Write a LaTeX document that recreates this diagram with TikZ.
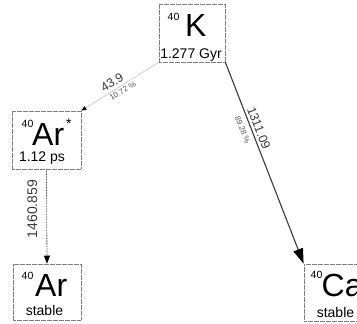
\documentclass[tikz,border=0pt]{standalone}
\usepackage{fontspec}
\setmainfont{Liberation Sans}
\usetikzlibrary{arrows.meta}
\newcommand\fsz[1]{\fontsize{#1}{#1}\selectfont}
\definecolor{boxgray}{HTML}{7E7E7E}
\definecolor{lightline}{HTML}{C4C4C4}
\definecolor{darkline}{HTML}{3A3A3A}
\definecolor{labgray}{HTML}{5A5A5A}
\tikzset{
  nucbox/.style={draw=boxgray, line width=0.8pt, dash pattern=on 0.6pt off 0.6pt, minimum width=67pt, minimum height=58pt, inner sep=0pt},
  sym/.style={font=\fsz{32}, inner sep=0pt, anchor=base west},
  massno/.style={font=\fsz{10.5}, inner sep=0pt, anchor=base west},
  hlife/.style={font=\fsz{14}, inner sep=0pt, anchor=base},
  elab/.style={font=\fsz{12.5}, text=darkline, inner sep=1pt},
  plab/.style={font=\fsz{8}, text=labgray, inner sep=1pt},
}
\begin{document}
\begin{tikzpicture}[x=1pt, y=-1pt]
\useasboundingbox (0,0) rectangle (357,324);
% K-40
\node[nucbox, minimum width=66pt] (Kbox) at (192,33) {};
\node[massno] (Km) at (167.5,20) {40};
\node[sym] (Ks) at (185,37) {K};
\node[hlife] (Kh) at (191,58) {1.277 Gyr};
% Ar-40*
\node[nucbox, minimum width=69pt] (Arsbox) at (46.5,140) {};
\node[massno] (Arsm) at (21.5,128) {40};
\node[sym] (Arss) at (32,146) {Ar};
\node[font=\fsz{14}, inner sep=0pt, anchor=north west] (Arsst) at (66,119) {*};
\node[hlife] (Arsh) at (42,161) {1.12 ps};
% Ar-40
\node[nucbox, minimum width=68pt, minimum height=56pt] (Arbox) at (47,292) {};
\node[massno] (Arm) at (21.5,279) {40};
\node[sym] (Ars) at (35,296) {Ar};
\node[hlife] (Arh) at (44.5,315) {stable};
% Ca-40
\node[nucbox, minimum width=68pt, minimum height=57pt] (Cabox) at (338,292.5) {};
\node[massno] (Cam) at (310.5,278) {40};
\node[sym] (Cas) at (321.5,296) {Ca};
\node[hlife] (Cah) at (335.5,317) {stable};
% decays
\draw[lightline, line width=0.6pt, -{Triangle[length=5pt,width=4pt,fill=black,color=black]}] (Kbox.south west) -- (Arsbox.north east)
  node[elab, pos=0.55, sloped, above=2pt] (l1) {43.9}
  node[plab, pos=0.5, sloped, below=1pt] (p1) {10.72 \%};
\draw[darkline, line width=1.1pt, -{Triangle[length=15pt,width=10pt,fill=black,color=black]}] (Kbox.south east) -- (Cabox.north west)
  node[elab, pos=0.34, sloped, above=1.5pt] (l2) {1311.09}
  node[plab, pos=0.32, sloped, below=4pt] (p2) {89.28 \%};
\draw[darkline, line width=0.8pt, dash pattern=on 0.8pt off 0.8pt, -{Triangle[length=8pt,width=6pt,fill=black,color=black]}] (Arsbox.south) -- (Arbox.north)
  node[font=\fsz{14}, text=darkline, pos=0.42, rotate=90, anchor=south, inner sep=0pt, inner ysep=9pt] (l3) {1460.859};
\end{tikzpicture}
\end{document}
